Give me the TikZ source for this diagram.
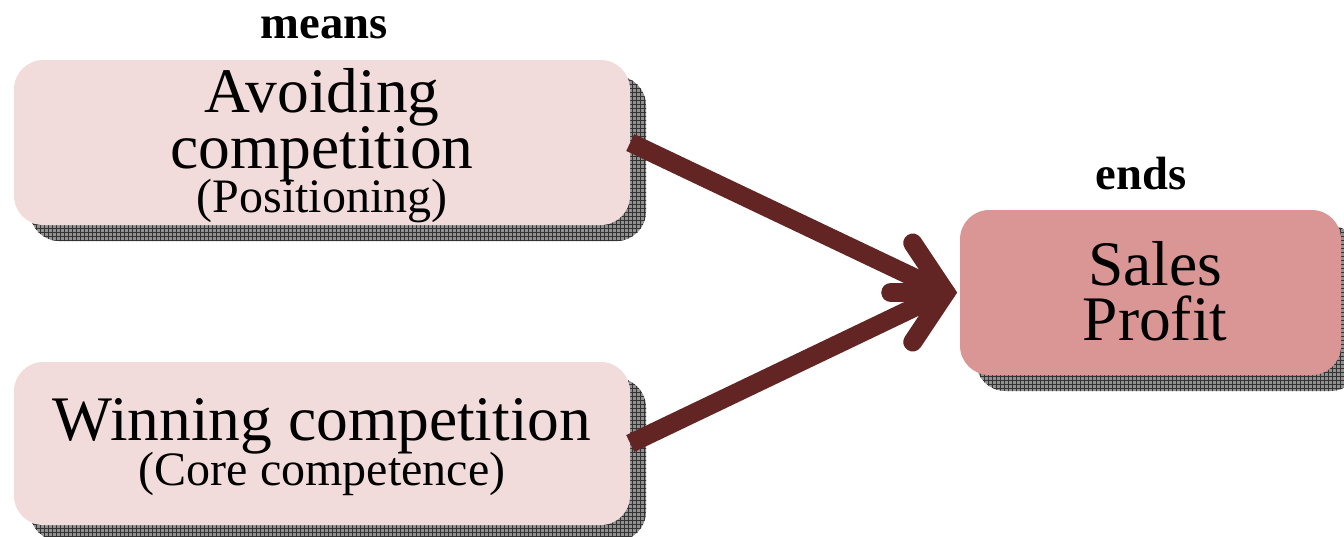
\documentclass[tikz,border=0pt]{standalone}
\usepackage{fontspec}
\setmainfont{Liberation Serif}
\usetikzlibrary{patterns,calc}
\definecolor{boxlight}{RGB}{242,220,219}
\definecolor{boxdark}{RGB}{217,150,148}
\definecolor{arrowred}{RGB}{99,37,35}
\definecolor{shadowgray}{RGB}{145,145,145}
\tikzset{
  box/.style={rounded corners=22pt, inner sep=0pt, draw=none},
  shadowbox/.style={rounded corners=22pt, fill=shadowgray},
  shadowgrid/.style={rounded corners=22pt, pattern=grid, pattern color=black!80},
  bigtxt/.style={anchor=base, inner sep=0pt, font=\fontsize{47.6pt}{50pt}\selectfont},
  smalltxt/.style={anchor=base, inner sep=0pt, font=\fontsize{36pt}{40pt}\selectfont},
  headtxt/.style={anchor=base, inner sep=0pt, font=\bfseries\fontsize{35pt}{40pt}\selectfont},
  conn/.style={draw=arrowred, line width=14pt},
  barb/.style={draw=arrowred, line width=14.25pt, line cap=round, line join=miter},
}
\begin{document}
\begin{tikzpicture}[x=0.75pt,y=-0.75pt]
\useasboundingbox (0,0) rectangle (1344,536);
\clip (0,0) rectangle (1344,536);
% shadows
\foreach \a/\b/\c/\d in {30/76/646/241, 30/378/646/541, 976/226/1360/391}{
  \path[shadowbox] (\a,\b) rectangle (\c,\d);
  \path[shadowgrid] (\a,\b) rectangle (\c,\d);
}
% boxes
\node[box, fill=boxlight, minimum width=462pt, minimum height=123.75pt] (A) at (322,142.5) {};
\node[box, fill=boxlight, minimum width=462pt, minimum height=122.25pt] (B) at (322,443.5) {};
\node[box, fill=boxdark, minimum width=285.75pt, minimum height=123.75pt] (C) at (1150.5,292.5) {};
% texts
\node[headtxt] (means) at (324,38) {means};
\node[headtxt] (ends) at (1141,189) {ends};
\node[bigtxt] (a1) at (322,112) {Avoiding};
\node[bigtxt] (a2) at (322,168) {competition};
\node[smalltxt] (a3) at (322,212) {(Positioning)};
\node[bigtxt] (b1) at (322,440) {Winning competition};
\node[smalltxt] (b2) at (322,485) {(Core competence)};
\node[bigtxt] (c1) at (1155,285) {Sales};
\node[bigtxt] (c2) at (1155,340) {Profit};
% connectors
\coordinate (Q) at ($(C.west)+(-14,0)$);
\draw[conn] (A.east) -- (Q);
\draw[conn] (B.east) -- (Q);
\draw[barb] ($(Q)+(-33,-49.5)$) -- (Q) -- ($(Q)+(-33,49.5)$);
\draw[barb] ($(Q)+(-55,0)$) -- (Q);
\end{tikzpicture}
\end{document}
